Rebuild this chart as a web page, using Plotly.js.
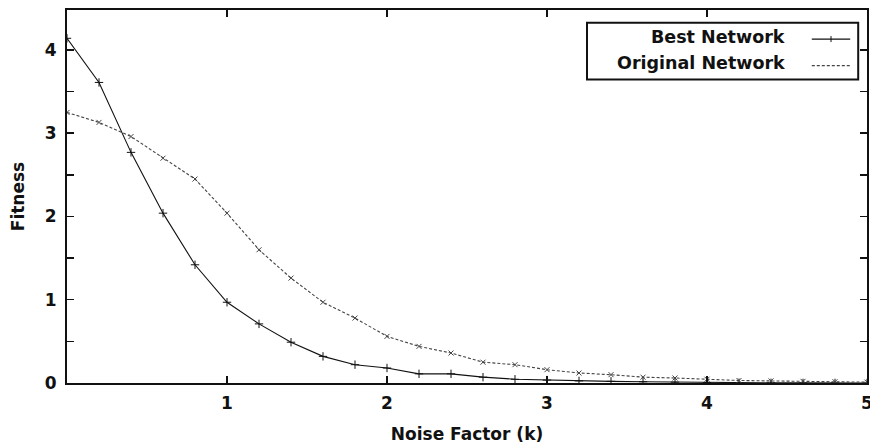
<!DOCTYPE html>
<html>
<head>
<meta charset="utf-8">
<script src="https://cdn.plot.ly/plotly-3.0.1.min.js"></script>
<style>html,body{margin:0;padding:0;background:#fff;}#chart{width:870px;height:444px;}</style>
</head>
<body>
<div id="chart"></div>
<script>
const noiseK = [0,0.2,0.4,0.6,0.8,1.0,1.2,1.4,1.6,1.8,2.0,2.2,2.4,2.6,2.8,3.0,3.2,3.4,3.6,3.8,4.0,4.2,4.4,4.6,4.8,5.0];
const bestNetwork = [4.14,3.61,2.77,2.04,1.42,0.97,0.71,0.49,0.32,0.22,0.18,0.11,0.11,0.07,0.045,0.035,0.025,0.02,0.015,0.01,0.005,0.003,0.002,0.001,0.001,0.0];
const originalNetwork = [3.25,3.13,2.96,2.70,2.45,2.04,1.60,1.26,0.97,0.78,0.56,0.44,0.36,0.25,0.22,0.16,0.12,0.10,0.07,0.06,0.045,0.03,0.025,0.02,0.015,0.01];
const xTickVals = [1,2,3,4,5];
const xTickText = ['1','2','3','4','5'];
const yTickVals = [0,0.5,1,1.5,2,2.5,3,3.5,4];
const yTickText = ['0','','1','','2','','3','','4'];
const seriesNames = ['Best Network','Original Network'];

const font = 'DejaVu Sans, sans-serif';
const traces = [
  {x: noiseK, y: bestNetwork, name: seriesNames[0], type: 'scatter', mode: 'lines+markers',
   line: {color: '#111', width: 1.1}, marker: {symbol: 'cross-thin-open', size: 6, color: '#111', line: {width: 1, color: '#111'}},
   showlegend: false},
  {x: noiseK, y: originalNetwork, name: seriesNames[1], type: 'scatter', mode: 'lines+markers',
   line: {color: '#444', width: 1.1, dash: '3px,2px'}, marker: {symbol: 'x-thin-open', size: 5, color: '#444', line: {width: 1, color: '#444'}},
   showlegend: false}
];

const axisCommon = {showline: true, linecolor: '#111', linewidth: 2, mirror: 'ticks', ticks: 'inside',
  ticklen: 7, tickwidth: 1.5, tickcolor: '#111', showgrid: false, zeroline: false,
  ticklabeloverflow: 'allow',
  tickfont: {family: font, size: 17, color: '#111', weight: 'bold'}};

const layout = {
  width: 870, height: 444,
  margin: {l: 67, r: 3, t: 10, b: 61},
  paper_bgcolor: '#fff', plot_bgcolor: '#fff',
  xaxis: Object.assign({}, axisCommon, {range: [0, 5], tickmode: 'array', tickvals: xTickVals, ticktext: xTickText,
    ticklabelstandoff: 4,
    title: {text: '<b>Noise Factor (k)</b>', font: {family: font, size: 17, color: '#111'}, standoff: 19}}),
  yaxis: Object.assign({}, axisCommon, {range: [0, 4.48], tickmode: 'array', tickvals: yTickVals, ticktext: yTickText,
    ticklabelstandoff: 5,
    title: {text: '<b>Fitness</b>', font: {family: font, size: 17, color: '#111'}, standoff: 16}}),
  shapes: [
    {type: 'rect', xref: 'paper', yref: 'paper', x0: 0.65, x1: 0.989, y0: 0.814, y1: 0.966, line: {color: '#111', width: 2}},
    {type: 'line', xref: 'paper', yref: 'paper', x0: 0.931, x1: 0.979, y0: 0.922, y1: 0.922, line: {color: '#111', width: 1.1}},
    {type: 'line', xref: 'paper', yref: 'paper', x0: 0.955, x1: 0.955, y0: 0.914, y1: 0.930, line: {color: '#111', width: 1}},
    {type: 'line', xref: 'paper', yref: 'paper', x0: 0.931, x1: 0.979, y0: 0.851, y1: 0.851, line: {color: '#444', width: 1.1, dash: '3px,2px'}}
  ],
  annotations: [
    {xref: 'paper', yref: 'paper', x: 0.9, y: 0.928, xanchor: 'right', yanchor: 'middle', showarrow: false,
     text: '<b>' + seriesNames[0] + '</b>', font: {family: font, size: 17.5, color: '#111'}},
    {xref: 'paper', yref: 'paper', x: 0.9, y: 0.857, xanchor: 'right', yanchor: 'middle', showarrow: false,
     text: '<b>' + seriesNames[1] + '</b>', font: {family: font, size: 17.5, color: '#111'}}
  ]
};

Plotly.newPlot('chart', traces, layout, {displayModeBar: false, staticPlot: true});
</script>
</body>
</html>
